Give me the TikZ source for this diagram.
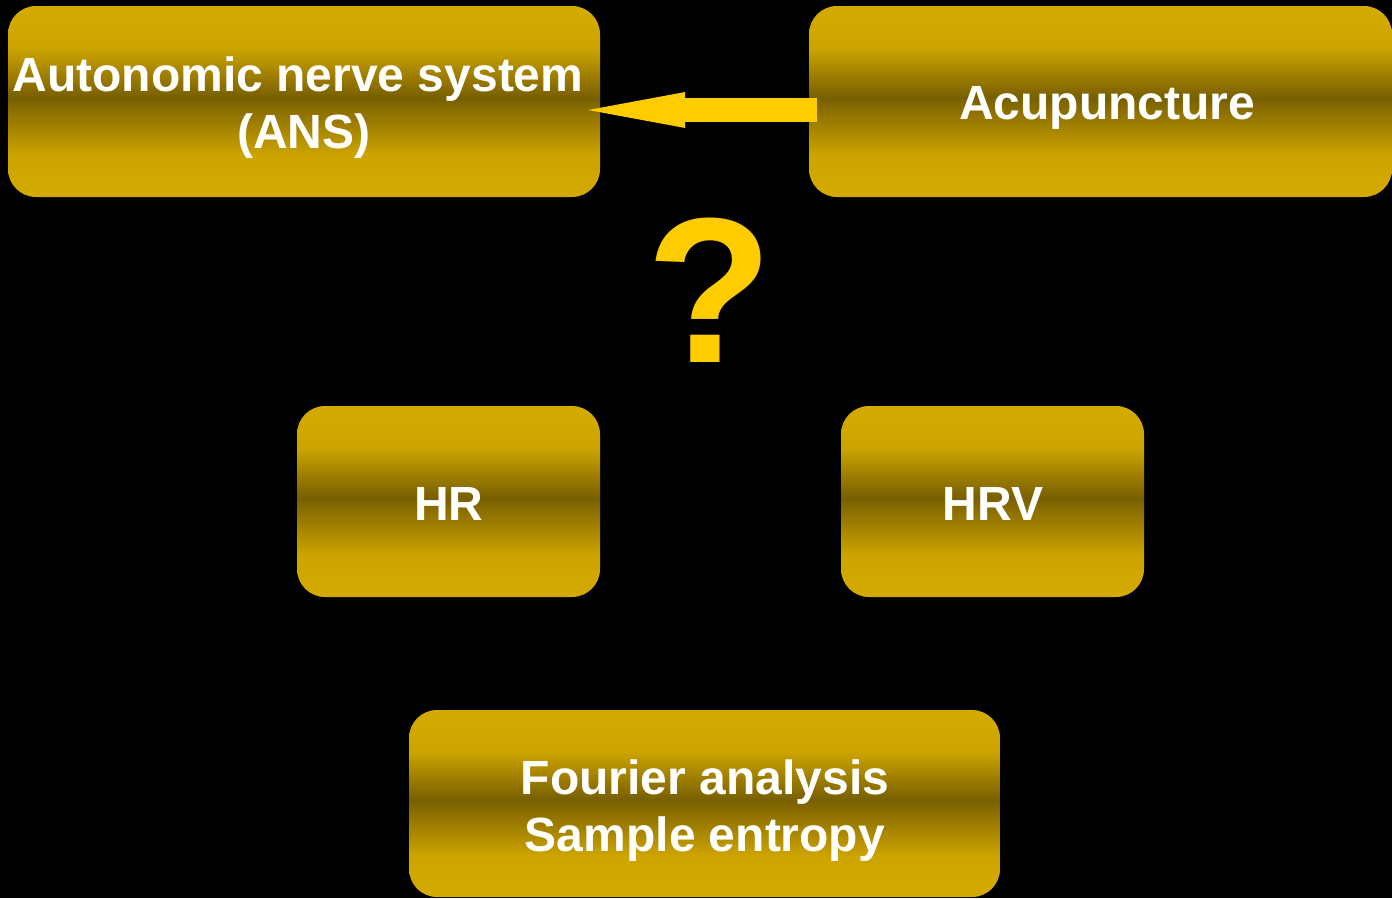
\documentclass[tikz,border=0pt]{standalone}
\usepackage{fontspec}
\setmainfont{Liberation Sans}
\usetikzlibrary{arrows.meta,calc}
\definecolor{gold}{RGB}{212,170,0}
\definecolor{goldmid}{RGB}{205,164,0}
\definecolor{darkgold}{RGB}{120,95,0}
\definecolor{arrowyellow}{RGB}{255,204,0}
\pgfdeclareverticalshading{goldbar}{100bp}{color(0bp)=(gold); color(25bp)=(gold); color(36bp)=(goldmid); color(51bp)=(darkgold); color(64bp)=(goldmid); color(75bp)=(gold); color(100bp)=(gold)}
\tikzset{
  goldbox/.style={draw=none, shade, shading=goldbar, rounded corners=28pt, inner sep=0pt},
  lbl/.style={text=white, inner sep=0pt, font=\fontsize{48}{57}\selectfont\bfseries, align=center},
  bigarrow/.style={draw=arrowyellow, line width=24pt, line cap=butt, -{Triangle[length=97pt,width=36pt,line width=0pt]}}
}
\begin{document}
\begin{tikzpicture}[x=1pt,y=-1pt]
\fill[black] (0,0) rectangle (1392,898);
\useasboundingbox (0,0) rectangle (1392,898);
% boxes
\node[goldbox, minimum width=592pt, minimum height=191pt] (ans) at (304,101.5) {};
\node[goldbox, minimum width=583pt, minimum height=191pt] (acu) at (1100.5,101.5) {};
\node[goldbox, minimum width=303pt, minimum height=191pt] (hr) at (448.5,501.5) {};
\node[goldbox, minimum width=303pt, minimum height=191pt] (hrv) at (992.5,501.5) {};
\node[goldbox, minimum width=591pt, minimum height=187pt] (four) at (704.5,803.5) {};
% labels
\node[lbl, anchor=north] (ansT) at (304,57) {Autonomic nerve system\kern12pt\\(ANS)};
\node[lbl, anchor=base] (acuT) at (1107,119.5) {Acupuncture};
\node[lbl, anchor=base] (hrT) at (449,520) {HR};
\node[lbl, anchor=base] (hrvT) at (993,520) {HRV};
\node[lbl, anchor=north] (fourT) at (705,760) {Fourier analysis\\Sample entropy};
\node[text=arrowyellow, inner sep=0pt, font=\fontsize{207}{207}\selectfont\bfseries] (qm) at (710,290) {?};
% arrow
\coordinate (aS) at ($(acu.west)+(8,8.5)$);
\coordinate (aT) at ($(ans.east)+(-12,8.5)$);
\draw[bigarrow] (aS) -- (aT);
\end{tikzpicture}
\end{document}
